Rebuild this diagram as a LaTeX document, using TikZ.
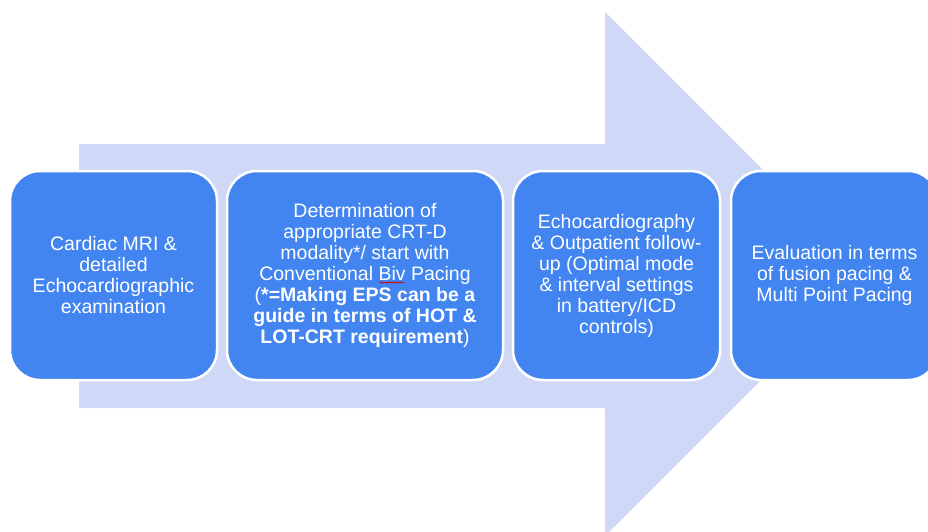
\documentclass[tikz,border=0pt]{standalone}
\usepackage{fontspec}
\setmainfont{Liberation Sans}
\usetikzlibrary{decorations.pathmorphing}

\definecolor{stepblue}{RGB}{66,133,240}
\definecolor{arrowblue}{RGB}{208,216,248}

\tikzset{
  stepbox/.style={draw=white, line width=2.5pt, fill=stepblue, rounded corners=30pt,
    minimum height=209pt, align=center, text=white, inner sep=0pt,
    font=\fontsize{19.5}{21}\selectfont},
  spellmark/.style={draw=red!85!black, line width=0.6pt, decorate,
    decoration={snake, amplitude=0.6pt, segment length=2.5pt}},
}

\begin{document}
\begin{tikzpicture}[x=1pt, y=-1pt]
  \useasboundingbox (0,0) rectangle (928,532);
  \clip (0,0) rectangle (928,532);
  % big background arrow
  \coordinate (tail top) at (79,144);
  \coordinate (tail bot) at (79,408);
  \coordinate (tip) at (867,274);
  \fill[arrowblue] (tail top) -- (605,144) -- (605,12) -- (tip)
    -- (605,536) -- (605,408) -- (tail bot) -- cycle;
  % steps
  \node[stepbox, minimum width=207pt] (mri) at (113.5,275.5)
    {Cardiac MRI \&\\detailed\\Echocardiographic\\examination};
  \node[stepbox, minimum width=276pt] (crt) at (365,275.5)
    {Determination of\\appropriate CRT-D\\modality*/ start with\\Conventional Biv Pacing\\
     (\textbf{*=Making EPS can be a}\\\textbf{guide in terms of HOT \&}\\\textbf{LOT-CRT requirement})};
  \node[stepbox, minimum width=207pt] (echo) at (616.5,275.5)
    {Echocardiography\\\& Outpatient follow-\\up (Optimal mode\\\& interval settings\\in battery/ICD\\controls)};
  \node[stepbox, minimum width=207pt] (eval) at (834.5,275.5)
    {Evaluation in terms\\of fusion pacing \&\\Multi Point Pacing};
  % spell-check mark under "Biv"
  \draw[spellmark] (379,282.5) -- (404,282.5);
\end{tikzpicture}
\end{document}
